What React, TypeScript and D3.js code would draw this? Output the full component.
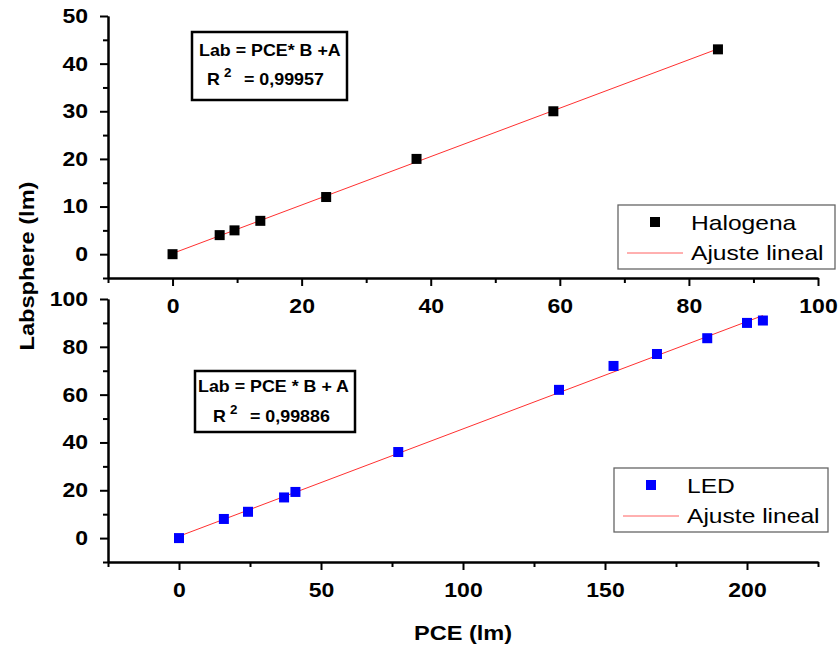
import React, { useEffect, useRef } from 'react';
import * as d3 from 'd3';

// Halogena (top panel)
const haloPce = [0, 7.3, 9.6, 13.6, 23.8, 37.8, 59, 84.5];
const haloLab = [0, 4, 5, 7, 12, 20, 30, 43];

// LED (bottom panel)
const ledPce = [0, 15.8, 24.3, 37, 41, 77.2, 133.8, 153, 168.3, 186, 200, 205.6];
const ledLab = [0, 8, 11, 17, 19.3, 36, 62, 72, 77, 83.6, 90, 91];

const topXMajor = [0, 20, 40, 60, 80, 100];
const topXMinor = [-10, 10, 30, 50, 70, 90];
const topYMajor = [0, 10, 20, 30, 40, 50];
const topYMinor = [-5, 5, 15, 25, 35, 45];
const botXMajor = [0, 50, 100, 150, 200];
const botXMinor = [-25, 25, 75, 125, 175, 225];
const botYMajor = [0, 20, 40, 60, 80, 100];
const botYMinor = [-10, 10, 30, 50, 70, 90];

const FONT = 'Arial, "Liberation Sans", sans-serif';
const SX = 1.15; // text in the original is a bit wider than Arial

function linFit(xs: number[], ys: number[]) {
  const mx = d3.mean(xs) as number;
  const my = d3.mean(ys) as number;
  let sxy = 0;
  let sxx = 0;
  xs.forEach((x, i) => {
    sxy += (x - mx) * (ys[i] - my);
    sxx += (x - mx) * (x - mx);
  });
  const b = sxy / sxx;
  return { b, a: my - b * mx };
}

export default function App() {
  const ref = useRef<SVGSVGElement>(null);

  useEffect(() => {
    const svg = d3.select(ref.current);
    svg.selectAll('*').remove();

    const left = 108;
    const right = 818;

    const panels = [
      {
        xs: haloPce, ys: haloLab, color: '#000000', name: 'Halogena',
        x: d3.scaleLinear().domain([-10, 100]).range([left, right]),
        y: d3.scaleLinear().domain([-5, 50]).range([278, 16]),
        xMajor: topXMajor, xMinor: topXMinor, yMajor: topYMajor, yMinor: topYMinor,
        box: { x: 192, y: 32, w: 155, h: 68, l1: 'Lab = PCE* B +A', r2: '0,99957', t1x: 199, b1: 56, rx: 207, b2: 85 },
        legend: { x: 618, y: 205, w: 217, h: 64 },
      },
      {
        xs: ledPce, ys: ledLab, color: '#0000ff', name: 'LED',
        x: d3.scaleLinear().domain([-25, 225]).range([left, right]),
        y: d3.scaleLinear().domain([-10, 100]).range([562, 299]),
        xMajor: botXMajor, xMinor: botXMinor, yMajor: botYMajor, yMinor: botYMinor,
        box: { x: 195, y: 371, w: 160, h: 61, l1: 'Lab = PCE * B + A', r2: '0,99886', t1x: 198, b1: 392, rx: 213, b2: 422 },
        legend: { x: 614, y: 468, w: 214, h: 64 },
      },
    ];

    panels.forEach((p) => {
      const y0 = p.y.range()[0];
      const g = svg.append('g');

      const styleAxis = (ax: any) => {
        ax.select('.domain').attr('stroke', '#000').attr('stroke-width', 2);
        ax.selectAll('.tick line').attr('stroke', '#000').attr('stroke-width', 2);
      };

      // x axis
      const xa = g.append('g').attr('transform', `translate(0,${y0})`)
        .call(d3.axisBottom(p.x).tickValues(p.xMajor).tickSize(8).tickSizeOuter(0).tickPadding(13).tickFormat(d3.format('d')));
      styleAxis(xa);
      xa.selectAll('text')
        .attr('font-family', FONT).attr('font-size', 20).attr('font-weight', 'bold').attr('fill', '#000')
        .attr('transform', `scale(${SX},1)`);
      const xm = g.append('g').attr('transform', `translate(0,${y0})`)
        .call(d3.axisBottom(p.x).tickValues(p.xMinor).tickSize(5).tickSizeOuter(0).tickFormat(() => ''));
      styleAxis(xm);

      // y axis
      const ya = g.append('g').attr('transform', `translate(${left},0)`)
        .call(d3.axisLeft(p.y).tickValues(p.yMajor).tickSize(8).tickSizeOuter(0).tickPadding(12).tickFormat(d3.format('d')));
      styleAxis(ya);
      ya.selectAll('text')
        .attr('font-family', FONT).attr('font-size', 20).attr('font-weight', 'bold').attr('fill', '#000')
        .attr('x', -20 / SX)
        .attr('transform', `scale(${SX},1)`);
      const ym = g.append('g').attr('transform', `translate(${left},0)`)
        .call(d3.axisLeft(p.y).tickValues(p.yMinor).tickSize(5).tickSizeOuter(0).tickFormat(() => ''));
      styleAxis(ym);

      // fit line
      const { a, b } = linFit(p.xs, p.ys);
      const ext = d3.extent(p.xs) as [number, number];
      const line = d3.line<number>().x((d) => p.x(d)).y((d) => p.y(a + b * d));
      g.append('path').datum(ext).attr('d', line).attr('fill', 'none')
        .attr('stroke', '#ff3030').attr('stroke-width', 1);

      // points
      const sq = 10;
      g.selectAll('rect.pt').data(p.xs).enter().append('rect')
        .attr('class', 'pt')
        .attr('x', (d) => p.x(d) - sq / 2)
        .attr('y', (d, i) => p.y(p.ys[i]) - sq / 2)
        .attr('width', sq).attr('height', sq)
        .attr('fill', p.color);

      // equation box
      const bx = p.box;
      g.append('rect').attr('x', bx.x).attr('y', bx.y).attr('width', bx.w).attr('height', bx.h)
        .attr('fill', 'white').attr('stroke', '#000').attr('stroke-width', 2.5);
      const bt = (txt: string, tx: number, ty: number, fs: number) =>
        g.append('text').attr('transform', `translate(${tx},${ty}) scale(${SX * 0.97},1)`)
          .attr('font-family', FONT).attr('font-size', fs).attr('font-weight', 'bold').text(txt);
      bt(bx.l1, bx.t1x, bx.b1, 16);
      bt('R', bx.rx, bx.b2, 16);
      bt('2', bx.rx + 17, bx.b2 - 8, 12);
      bt(`= ${bx.r2}`, bx.rx + 37, bx.b2, 16);

      // legend
      const lg = p.legend;
      g.append('rect').attr('x', lg.x).attr('y', lg.y).attr('width', lg.w).attr('height', lg.h)
        .attr('fill', 'white').attr('stroke', '#666').attr('stroke-width', 1.3);
      g.append('rect').attr('x', lg.x + 32).attr('y', lg.y + 12).attr('width', sq).attr('height', sq)
        .attr('fill', p.color);
      g.append('line').attr('x1', lg.x + 9).attr('x2', lg.x + 65)
        .attr('y1', lg.y + 48).attr('y2', lg.y + 48)
        .attr('stroke', '#ff6060').attr('stroke-width', 1);
      const lt = (txt: string, ty: number) =>
        g.append('text').attr('transform', `translate(${lg.x + 73},${ty}) scale(1.2,1)`)
          .attr('font-family', FONT).attr('font-size', 20.5).attr('fill', '#000').text(txt);
      lt(p.name, lg.y + 25);
      lt('Ajuste lineal', lg.y + 55);
    });

    // axis titles
    svg.append('text')
      .attr('transform', `translate(463,640) scale(${SX},1)`)
      .attr('text-anchor', 'middle')
      .attr('font-family', FONT).attr('font-size', 20.5).attr('font-weight', 'bold')
      .text('PCE (lm)');
    svg.append('text')
      .attr('transform', `translate(34,266) rotate(-90) scale(${SX},1)`)
      .attr('text-anchor', 'middle')
      .attr('font-family', FONT).attr('font-size', 20.5).attr('font-weight', 'bold')
      .text('Labsphere (lm)');
  }, []);

  return (
    <svg
      ref={ref}
      width={838}
      height={649}
      style={{ position: 'absolute', left: 0, top: 0, background: 'white' }}
    />
  );
}
